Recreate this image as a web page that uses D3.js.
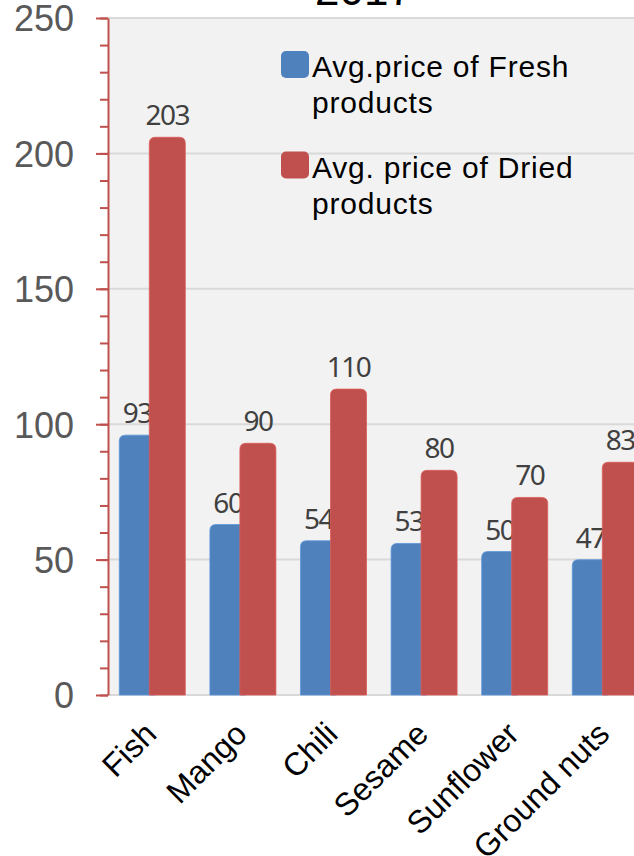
<!DOCTYPE html>
<html>
<head>
<meta charset="utf-8">
<script src="https://cdn.jsdelivr.net/npm/d3@7"></script>
<style>
  body { margin: 0; background: #fff; }
  svg { display: block; }
  text { font-family: "Liberation Sans", Arial, sans-serif; }
</style>
</head>
<body>
<div id="wrapper"></div>
<script>
// data
const categories = ["Fish", "Mango", "Chili", "Sesame", "Sunflower", "Ground nuts"];
const seriesKeys = ["fresh", "dried"];
const seriesNames = [
  ["Avg.price of Fresh", "products"],
  ["Avg. price of Dried", "products"]
];
const freshValues = [93, 60, 54, 53, 50, 47];
const driedValues = [203, 90, 110, 80, 70, 83];
const yTicks = [0, 50, 100, 150, 200, 250];
const title = "2017";

function drawBars() {
  const dimensions = {
    width: 634,
    height: 856,
    plotLeft: 108,
    plotRight: 640,
    plotTop: 18,
    plotBottom: 695
  };
  const colors = { fresh: "#4f81bd", dried: "#c0504d" };
  const barWidth = 36;
  const capLift = 8;
  const cornerRadius = 6;

  const dataset = categories.map((c, i) => ({
    category: c,
    fresh: freshValues[i],
    dried: driedValues[i]
  }));

  const wrapper = d3.select("#wrapper")
    .append("svg")
    .attr("width", dimensions.width)
    .attr("height", dimensions.height);

  // scales
  const yScale = d3.scaleLinear()
    .domain([0, 250])
    .range([dimensions.plotBottom, dimensions.plotTop]);

  const xScale = d3.scaleBand()
    .domain(categories)
    .range([107, 107 + 6 * 90.6])
    .paddingInner(0.2715)
    .paddingOuter(0.1357);

  const seriesScale = d3.scalePoint()
    .domain(seriesKeys)
    .range([0, xScale.bandwidth() - barWidth]);

  // plot background + gridlines
  wrapper.append("rect")
    .attr("x", dimensions.plotLeft)
    .attr("y", dimensions.plotTop)
    .attr("width", dimensions.plotRight - dimensions.plotLeft)
    .attr("height", dimensions.plotBottom - dimensions.plotTop + 1)
    .attr("fill", "#f2f2f2");

  wrapper.append("g")
    .selectAll("line")
    .data(yTicks)
    .join("line")
    .attr("x1", dimensions.plotLeft)
    .attr("x2", dimensions.plotRight)
    .attr("y1", d => yScale(d))
    .attr("y2", d => yScale(d))
    .attr("stroke", "#d9d9d9")
    .attr("stroke-width", 2);

  // bars
  const barPath = (x, top, w, bottom, r) =>
    `M${x},${bottom}V${top + r}Q${x},${top} ${x + r},${top}H${x + w - r}Q${x + w},${top} ${x + w},${top + r}V${bottom}Z`;

  seriesKeys.forEach(key => {
    const g = wrapper.append("g");
    g.selectAll("path")
      .data(dataset)
      .join("path")
      .attr("d", d => barPath(
        xScale(d.category) + seriesScale(key),
        yScale(d[key]) - capLift,
        barWidth,
        yScale(0),
        cornerRadius))
      .attr("fill", colors[key])
      .attr("stroke", d3.color(colors[key]).brighter(0.4))
      .attr("stroke-width", 0.8);

    g.selectAll("text")
      .data(dataset)
      .join("text")
      .attr("x", d => xScale(d.category) + seriesScale(key) + barWidth / 2)
      .attr("y", d => yScale(d[key]) - capLift - 12)
      .attr("text-anchor", "middle")
      .style("font-family", "'Noto Sans', sans-serif")
      .style("font-size", "28px")
      .style("letter-spacing", "-1.5px")
      .attr("fill", "#404040")
      .text(d => d[key]);
  });

  // y axis
  const minorAxis = d3.axisLeft(yScale)
    .tickValues(d3.range(0, 251, 10))
    .tickSize(8)
    .tickFormat("");
  const majorAxis = d3.axisLeft(yScale)
    .tickValues(yTicks)
    .tickSize(12)
    .tickPadding(22)
    .tickSizeOuter(0);

  const minor = wrapper.append("g")
    .attr("transform", "translate(108,0)")
    .call(minorAxis);
  minor.select(".domain").remove();
  minor.selectAll("line").attr("stroke", "#c0504d").attr("stroke-width", 2);

  const major = wrapper.append("g")
    .attr("transform", "translate(108,0)")
    .call(majorAxis);
  major.select(".domain").attr("stroke", "#c0504d").attr("stroke-width", 2);
  major.selectAll("line").attr("stroke", "#c0504d").attr("stroke-width", 2);
  major.selectAll("text")
    .attr("dy", "0.36em")
    .style("font-family", "'Liberation Sans', Arial, sans-serif")
    .style("font-size", "36px")
    .attr("fill", "#595959");

  // category labels
  wrapper.append("g")
    .selectAll("text")
    .data(categories)
    .join("text")
    .attr("transform", d =>
      `translate(${xScale(d) + xScale.bandwidth() / 2 + 6}, 736) rotate(-45)`)
    .attr("text-anchor", "end")
    .style("font-size", "32px")
    .attr("fill", "#000")
    .text(d => d);

  // legend
  const legend = wrapper.append("g")
    .selectAll("g")
    .data(seriesKeys)
    .join("g")
    .attr("transform", (d, i) => `translate(281, ${51 + i * 100.5})`);

  legend.append("rect")
    .attr("width", 28)
    .attr("height", 27)
    .attr("rx", 5)
    .attr("fill", d => colors[d]);

  legend.append("text")
    .attr("x", 31)
    .attr("y", 26)
    .style("font-size", "30px")
    .style("letter-spacing", "0.8px")
    .attr("fill", "#000")
    .selectAll("tspan")
    .data((d, i) => seriesNames[i])
    .join("tspan")
    .attr("x", 31)
    .attr("dy", (d, i) => (i === 0 ? 0 : 36))
    .text(d => d);

  // title (mostly cut off at the top)
  wrapper.append("text")
    .attr("x", 364)
    .attr("y", 5)
    .attr("text-anchor", "middle")
    .style("font-size", "44px")
    .attr("fill", "#000")
    .text(title);
}
drawBars();
</script>
</body>
</html>
